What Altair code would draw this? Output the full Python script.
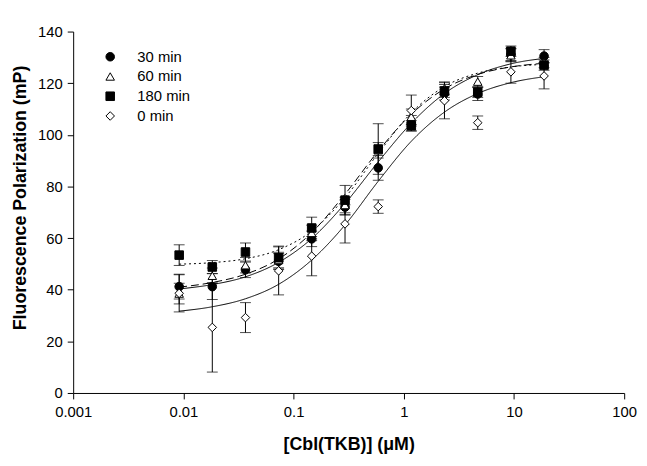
import altair as alt
import pandas as pd

# concentrations of Cbl(TKB) in uM (2-fold dilution series)
conc = [0.00916, 0.0183, 0.0366, 0.0732, 0.146, 0.293, 0.586, 1.17, 2.34, 4.69, 9.38, 18.75]
series = ["30 min", "60 min", "180 min", "0 min"]
fills = ["black", "white", "black", "white"]
strokes = ["black", "black", "black", "black"]
shapes = ["circle", "triangle-up", "square", "diamond"]
dashes = [[1, 0], [8, 4], [2, 3], [1, 0]]

# measured means
s30 = [41.2, 41.2, 47.7, 51.0, 59.7, 72.0, 87.2, 104.5, 116.0, 115.8, 131.0, 130.5]
s60 = [38.5, 45.4, 49.5, 51.5, 62.0, 72.8, 94.0, 107.0, 118.0, 120.6, 130.8, 128.0]
s180 = [53.4, 48.8, 54.6, 52.4, 63.9, 74.7, 94.5, 103.5, 117.0, 116.5, 132.4, 127.0]
s0 = [38.6, 25.4, 29.2, 47.3, 53.0, 65.5, 72.2, 109.4, 113.2, 104.7, 124.4, 122.8]

# error bar half-widths
e30 = [4.8, 5.0, 3.0, 3.0, 3.0, 3.0, 4.8, 3.0, 2.5, 2.5, 2.5, 2.5]
e60 = [4.0, 3.0, 3.0, 3.0, 3.0, 3.0, 3.0, 3.0, 2.5, 2.0, 2.5, 2.0]
e180 = [4.0, 2.5, 3.5, 4.5, 4.2, 5.7, 9.8, 2.0, 2.5, 2.0, 2.0, 2.0]
e0 = [7.2, 17.3, 5.8, 9.3, 7.6, 7.4, 2.6, 6.0, 7.0, 2.6, 4.4, 5.0]

# fitted curves, read at the same concentrations
f30 = [40.3, 42.0, 45.0, 50.6, 59.8, 73.4, 89.5, 104.5, 116.0, 123.3, 127.5, 129.6]
f60 = [41.0, 42.8, 46.0, 51.9, 62.1, 77.0, 93.7, 108.0, 117.8, 123.4, 126.3, 127.7]
f180 = [49.9, 50.5, 52.0, 55.5, 62.7, 75.7, 92.8, 108.5, 118.7, 123.9, 126.3, 127.3]
f0 = [31.7, 33.4, 36.5, 42.1, 51.5, 65.1, 82.0, 97.5, 108.8, 116.0, 120.2, 122.5]

x_ticks = [0.001, 0.01, 0.1, 1, 10, 100]
y_ticks = [0, 20, 40, 60, 80, 100, 120, 140]

rows = []
for name, vals, errs in zip(series, [s30, s60, s180, s0], [e30, e60, e180, e0]):
    for c, v, e in zip(conc, vals, errs):
        rows.append({"series": name, "conc": c, "value": v, "lo": v - e, "hi": v + e})
pts = pd.DataFrame(rows)

frows = []
for name, vals in zip(series, [f30, f60, f180, f0]):
    for c, v in zip(conc, vals):
        frows.append({"curve": name, "conc": c, "fit": v})
fits = pd.DataFrame(frows)

FONT = "Liberation Sans"

xscale = alt.Scale(type="log", domain=[0.001, 100])
yscale = alt.Scale(domain=[0, 140], nice=False, zero=False)

xaxis = alt.Axis(values=x_ticks, labelExpr="format(datum.value, '~g')",
                 title="[Cbl(TKB)] (μM)", grid=False, tickSize=6,
                 labelPadding=6, titlePadding=16, labelFlush=False)
yaxis = alt.Axis(values=y_ticks, title="Fluorescence Polarization (mP)", grid=False,
                 tickSize=6, labelPadding=5, titlePadding=8, titleY=168)

line_layers = []
for i, (name, dash) in enumerate(zip(series, dashes)):
    if i == 0:
        enc = dict(x=alt.X("conc:Q", scale=xscale, axis=xaxis),
                   y=alt.Y("fit:Q", scale=yscale, axis=yaxis))
    else:
        enc = dict(x=alt.X("conc:Q", scale=xscale),
                   y=alt.Y("fit:Q", scale=yscale))
    line_layers.append(
        alt.Chart(fits).transform_filter(alt.datum.curve == name)
        .mark_line(color="black", strokeWidth=1, interpolate="monotone", strokeDash=dash)
        .encode(**enc)
    )

rules = alt.Chart(pts).mark_rule(color="black", strokeWidth=1).encode(
    x=alt.X("conc:Q", scale=xscale),
    y=alt.Y("lo:Q", scale=yscale),
    y2="hi:Q",
)
cap_lo = alt.Chart(pts).mark_tick(color="black", thickness=1, size=11, orient="horizontal").encode(
    x=alt.X("conc:Q", scale=xscale),
    y=alt.Y("lo:Q", scale=yscale),
)
cap_hi = alt.Chart(pts).mark_tick(color="black", thickness=1, size=11, orient="horizontal").encode(
    x=alt.X("conc:Q", scale=xscale),
    y=alt.Y("hi:Q", scale=yscale),
)

legend = alt.Legend(title=None, orient="none", legendX=30, legendY=18,
                    labelFont=FONT, labelFontSize=15, labelColor="black",
                    symbolStrokeColor="black", symbolStrokeWidth=1, symbolSize=75,
                    rowPadding=4, labelOffset=20)

points = alt.Chart(pts).mark_point(filled=False, strokeWidth=1, opacity=1,
                                   fillOpacity=1, size=75).encode(
    x=alt.X("conc:Q", scale=xscale),
    y=alt.Y("value:Q", scale=yscale),
    shape=alt.Shape("series:N", sort=series,
                    scale=alt.Scale(domain=series, range=shapes),
                    legend=legend),
    fill=alt.Fill("series:N", sort=series,
                  scale=alt.Scale(domain=series, range=fills),
                  legend=legend),
    stroke=alt.Stroke("series:N", sort=series,
                      scale=alt.Scale(domain=series, range=strokes),
                      legend=legend),
)

chart = alt.layer(*line_layers, rules, cap_lo, cap_hi, points).properties(
    width=558, height=366,
    background="white",
    autosize=alt.AutoSizeParams(type="none"),
    padding={"left": 66, "top": 21, "right": 15, "bottom": 64},
).configure_view(stroke=None).configure_axis(
    domainColor="black", tickColor="black", labelColor="black", titleColor="black",
    labelFont=FONT, titleFont=FONT, labelFontSize=15, titleFontSize=18,
    titleFontWeight="bold", domainWidth=1, tickWidth=1,
)

chart.save("out.html", embed_options={"renderer": "svg", "actions": False})
